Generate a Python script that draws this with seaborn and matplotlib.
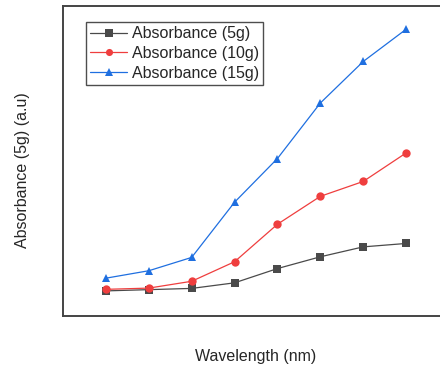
import pandas as pd
import matplotlib.pyplot as plt
import seaborn as sns

# wavelength points (no tick labels shown on the original, so index positions)
wavelength = [1, 2, 3, 4, 5, 6, 7, 8]

# absorbance (arbitrary units, axis 0..1)
abs_5g = [0.081, 0.085, 0.089, 0.107, 0.153, 0.191, 0.223, 0.234]
abs_10g = [0.086, 0.090, 0.112, 0.175, 0.296, 0.386, 0.434, 0.526]
abs_15g = [0.122, 0.146, 0.189, 0.367, 0.508, 0.687, 0.821, 0.925]

series_names = ["Absorbance (5g)", "Absorbance (10g)", "Absorbance (15g)"]

rows = []
for name, vals in zip(series_names, [abs_5g, abs_10g, abs_15g]):
    for w, v in zip(wavelength, vals):
        rows.append({"Wavelength": w, "Absorbance": v, "Series": name})
df = pd.DataFrame(rows)

sns.set_theme(style="white")
plt.rcParams['font.family'] = ['Liberation Sans', 'DejaVu Sans']

fig = plt.figure(figsize=(4.4, 3.68), dpi=100)
ax = fig.add_axes([63 / 440, 52 / 368, 386 / 440, 310 / 368])

palette = {series_names[0]: "#4a4a4a", series_names[1]: "#ef3e3e", series_names[2]: "#1f6fe0"}
markers = {series_names[0]: "s", series_names[1]: "o", series_names[2]: "^"}

sns.lineplot(data=df, x="Wavelength", y="Absorbance", hue="Series", style="Series",
             palette=palette, markers=markers, dashes=False, linewidth=0.9,
             markersize=6, markeredgewidth=0, ax=ax)

ax.set_xlim(0, 9)
ax.set_ylim(0, 1)
ax.set_xticks([])
ax.set_yticks([])
for sp in ax.spines.values():
    sp.set_color("#444444")
    sp.set_linewidth(1.4)

ax.set_xlabel("Wavelength (nm)", fontsize=11.5)
ax.set_ylabel("Absorbance (5g) (a.u)", fontsize=11.5)
ax.xaxis.set_label_coords(0.5, -0.105)
ax.yaxis.set_label_coords(-0.085, 0.47)

handles, labels = ax.get_legend_handles_labels()
leg = ax.legend(handles, labels, loc="upper left", bbox_to_anchor=(0.06, 0.948),
                fontsize=11.5, frameon=True, fancybox=False, handlelength=2.3,
                handletextpad=0.3, labelspacing=0.3, borderpad=0.25, borderaxespad=0,
                markerscale=0.85)
leg.get_frame().set_edgecolor("#222222")
leg.get_frame().set_linewidth(1.0)

fig.savefig("out.png", dpi=100)
